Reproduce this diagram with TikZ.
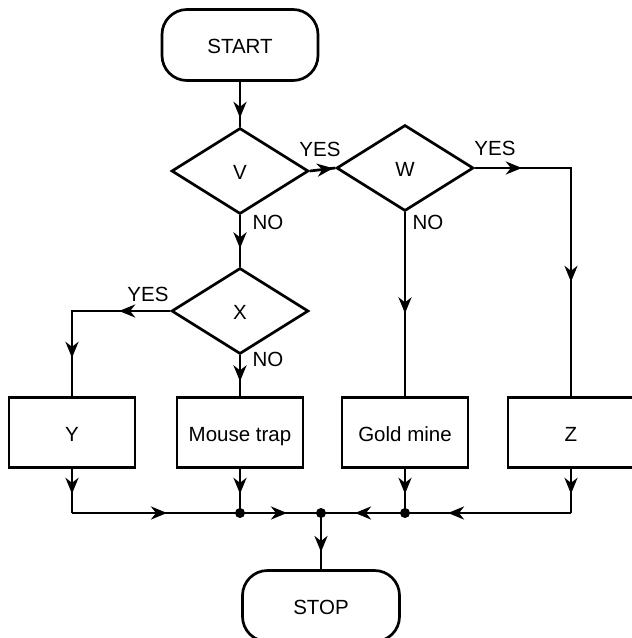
\documentclass[tikz,border=0pt]{standalone}
\usepackage{fontspec}
\setmainfont{Liberation Sans}
\usetikzlibrary{shapes.geometric,arrows.meta,decorations.markings}
\tikzset{
  base/.style={draw=black, line width=2.7pt, font=\fontsize{20.5}{24}\selectfont, inner sep=0pt, text height=18pt, text depth=1pt},
  termbox/.style={base, rectangle, rounded corners=25pt, minimum width=156pt, minimum height=71pt},
  decbox/.style={base, diamond, minimum width=137pt, minimum height=86pt},
  procbox/.style={base, rectangle, minimum width=126pt, minimum height=70pt},
  lbl/.style={font=\fontsize{20.5}{24}\selectfont, inner sep=0pt},
  line/.style={line width=2.7pt},
  arr/.style={postaction={decorate,decoration={markings,
    mark=at position #1 with {\arrow{Stealth[length=16pt,width=13pt,inset=5pt]}}}}},
  arrtwo/.style 2 args={postaction={decorate,decoration={markings,
    mark=at position #1 with {\arrow{Stealth[length=16pt,width=13pt,inset=5pt]}},
    mark=at position #2 with {\arrow{Stealth[length=16pt,width=13pt,inset=5pt]}}}}},
  dot/.style={circle, fill=black, minimum size=10pt, inner sep=0pt}
}
\begin{document}
\begin{tikzpicture}[x=1pt,y=-1pt]
\useasboundingbox (0,0) rectangle (632,638);
\clip (0,0) rectangle (632,638);
% nodes
\node[termbox] (start) at (240,45) {START};
\node[decbox] (V) at (240,171) {V};
\node[decbox] (W) at (405,168) {W};
\node[decbox] (X) at (240,311) {X};
\node[procbox] (Y) at (72,432.5) {Y};
\node[procbox] (M) at (240,432.5) {Mouse trap};
\node[procbox] (G) at (405,432.5) {Gold mine};
\node[procbox] (Z) at (571,432.5) {Z};
\node[termbox, minimum width=157pt] (stop) at (321,606) {STOP};
% labels
\node[lbl] (l1) at (320,149) {YES};
\node[lbl] (l2) at (268,222) {NO};
\node[lbl] (l3) at (428,222) {NO};
\node[lbl] (l4) at (495,148) {YES};
\node[lbl] (l5) at (148,294) {YES};
\node[lbl] (l6) at (268,359) {NO};
% bus coordinates
\coordinate (jY) at (72,513);
\coordinate (jM) at (240,513);
\coordinate (jC) at (321,513);
\coordinate (jG) at (405,513);
\coordinate (jZ) at (571,513);
% connectors
\draw[line, arr=36pt] (start.south) -- (V.north);
\draw[line, arr=-2pt] (V.east) -- (W.west);
\draw[line, arr=33pt] (V.south) -- (X.north);
\draw[line, arrtwo={47pt}{210pt}] (W.east) -| (Z.north);
\draw[line, arr=101pt] (W.south) -- (G.north);
\draw[line, arrtwo={51pt}{145pt}] (X.west) -| (Y.north);
\draw[line, arr=26pt] (X.south) -- (M.north);
\draw[line, arr=25pt] (Y.south) -- (jY);
\draw[line, arr=25pt] (M.south) -- (jM);
\draw[line, arr=25pt] (G.south) -- (jG);
\draw[line, arr=25pt] (Z.south) -- (jZ);
\draw[line, arr=95pt] (jY) -- (jM);
\draw[line, arr=47pt] (jM) -- (jC);
\draw[line, arr=123pt] (jZ) -- (jG);
\draw[line, arr=50pt] (jG) -- (jC);
\draw[line, arr=39pt] (jC) -- (stop.north);
\node[dot] (dM) at (jM) {};
\node[dot] (dC) at (jC) {};
\node[dot] (dG) at (jG) {};
\end{tikzpicture}
\end{document}
